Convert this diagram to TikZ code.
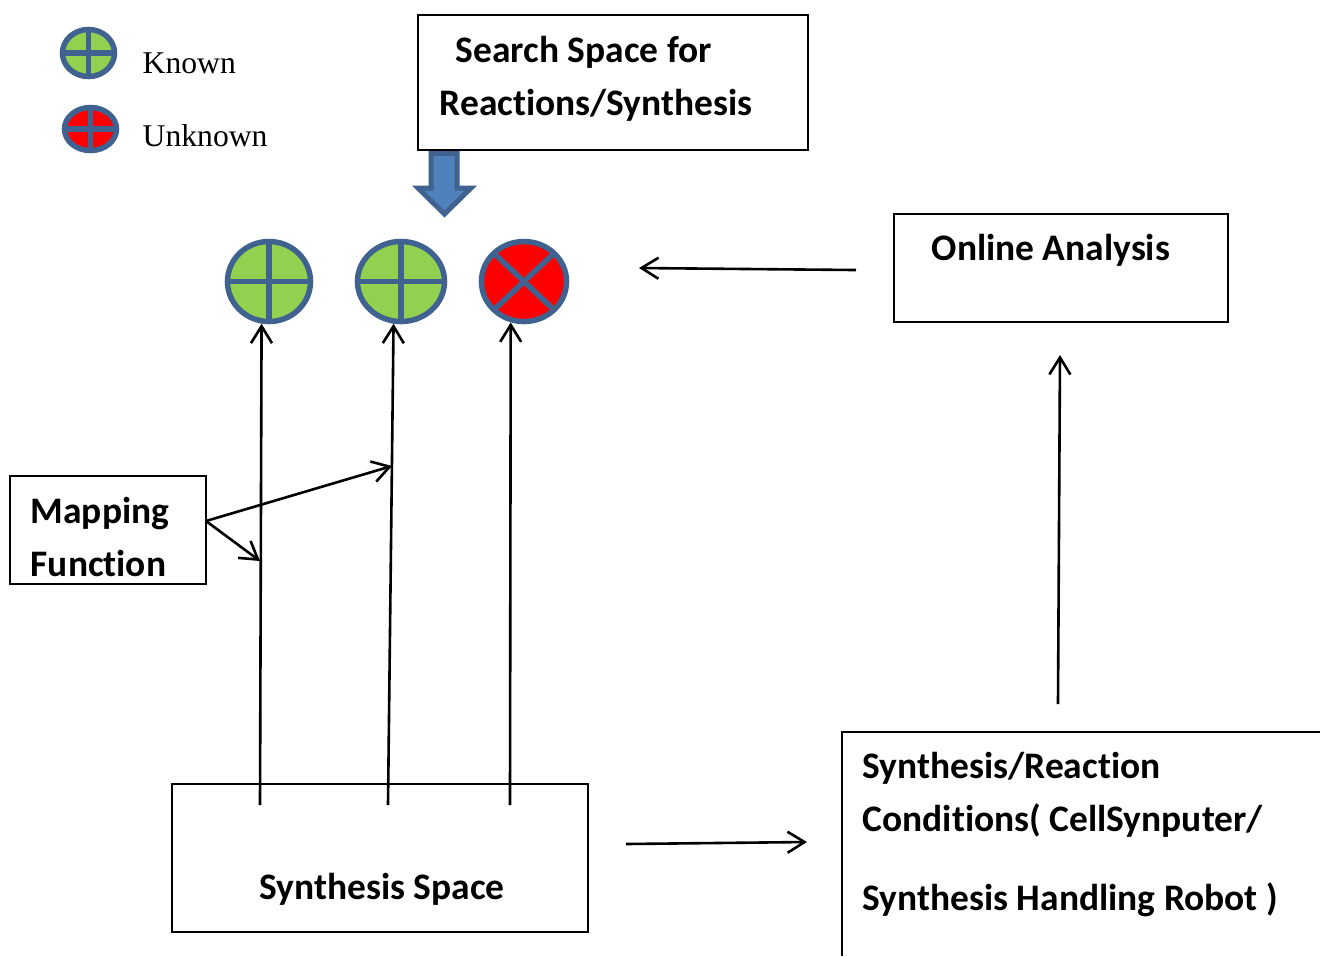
\documentclass[tikz,border=0pt]{standalone}
\usepackage{fontspec}
\setmainfont{Carlito}[Ligatures=NoCommon]
\newfontfamily\legendfont{Liberation Serif}
\usetikzlibrary{arrows.meta,shapes.geometric}
\definecolor{ballblue}{HTML}{3F6290}
\definecolor{ballgreen}{HTML}{92D050}
\definecolor{blockfill}{HTML}{4F81BD}
\begin{document}
\begin{tikzpicture}[x=0.01cm, y=-0.01cm,
        box_node/.style={draw=black, line width=0.02cm, inner sep=0pt},
        box_text/.style={font=\fontsize{10.65}{15.1}\selectfont\bfseries, align=left, inner sep=0pt},
        legend_text/.style={font=\fontsize{9}{11}\selectfont\legendfont, anchor=base west, inner sep=0pt},
        ball/.style={ellipse, draw=ballblue, line width=0.055cm, inner sep=0pt},
        plus_ball/.style={ball, path picture={
            \draw[ballblue, line width=0.055cm] (path picture bounding box.north) -- (path picture bounding box.south);
            \draw[ballblue, line width=0.055cm] (path picture bounding box.west) -- (path picture bounding box.east);}},
        cross_ball/.style={ball, path picture={
            \draw[ballblue, line width=0.055cm] (path picture bounding box.north west) -- (path picture bounding box.south east);
            \draw[ballblue, line width=0.055cm] (path picture bounding box.south west) -- (path picture bounding box.north east);}},
        flow/.style={draw=black, line width=0.026cm, -{Straight Barb[length=0.17cm, width=0.21cm, line width=0.026cm]}}
    ]
    \useasboundingbox (0,0) rectangle (1320,956);

    % Legenda
    \node[plus_ball, fill=ballgreen, minimum width=0.52cm, minimum height=0.47cm] (legendknown) at (88.5,53) {};
    \node[plus_ball, fill=red, minimum width=0.52cm, minimum height=0.43cm] (legendunknown) at (90.5,129) {};
    \node[legend_text] (knowntext) at (142,73) {Known};
    \node[legend_text] (unknowntext) at (142,146) {Unknown};

    % Riquadri
    \node[box_node, minimum width=3.9cm, minimum height=1.35cm] (search) at (613,82.5) {};
    \node[box_text, anchor=west] (searchtext) at (439,79) {\hspace*{0.16cm}Search Space for\\Reactions/Synthesis};
    \node[box_node, minimum width=3.34cm, minimum height=1.08cm] (online) at (1061,268) {};
    \node[box_text, anchor=west] (onlinetext) at (931,250) {Online Analysis};
    \node[box_node, minimum width=1.96cm, minimum height=1.08cm] (mapping) at (108,530) {};
    \node[box_text, anchor=west] (mappingtext) at (30,537) {Mapping\\Function};
    \node[box_node, minimum width=4.16cm, minimum height=1.48cm] (space) at (380,858) {};
    \node[box_text, anchor=west] (spacetext) at (259,889) {Synthesis Space};

    % Riquadro tagliato dal bordo
    \draw[line width=0.02cm] (1320,732) -- (842,732) -- (842,956);
    \node[box_text, anchor=west] (conditions) at (862,834.5) {Synthesis/Reaction\\Conditions( CellSynputer/\\[0.26cm]Synthesis Handling Robot )};

    % Cerchi
    \node[plus_ball, fill=ballgreen, minimum width=0.83cm, minimum height=0.8cm] (ballone) at (269,281.5) {};
    \node[plus_ball, fill=ballgreen, minimum width=0.87cm, minimum height=0.8cm] (balltwo) at (401,281.5) {};
    \node[cross_ball, fill=red, minimum width=0.85cm, minimum height=0.8cm] (ballthree) at (524,281.5) {};

    % Freccia piena
    \draw[draw=ballblue, fill=blockfill, line width=0.05cm, miter limit=10]
        (431,153.5) -- (457,153.5) -- (457,188) -- (471,188) -- (444.5,214) -- (418,188) -- (431,188) -- cycle;

    % Estremi liberi
    \coordinate (spaceone) at (260,805);
    \coordinate (spacetwo) at (388,805);
    \coordinate (spacethree) at (510,805);
    \coordinate (mapout) at (206,521);
    \coordinate (mapone) at (260,561);
    \coordinate (maptwo) at (392,466);
    \coordinate (onlineout) at (856,270);
    \coordinate (ballsin) at (639,268);
    \coordinate (condout) at (1058,704);
    \coordinate (onlinein) at (1060,355);
    \coordinate (spaceout) at (626,844);
    \coordinate (condin) at (807,842);

    % Frecce
    \draw[flow] (spaceone) -- (ballone.260);
    \draw[flow] (spacetwo) -- (balltwo.260);
    \draw[flow] (spacethree) -- (ballthree.252);
    \draw[flow] (mapout) -- (mapone);
    \draw[flow] (mapout) -- (maptwo);
    \draw[flow] (onlineout) -- (ballsin);
    \draw[flow] (condout) -- (onlinein);
    \draw[flow] (spaceout) -- (condin);
\end{tikzpicture}
\end{document}
